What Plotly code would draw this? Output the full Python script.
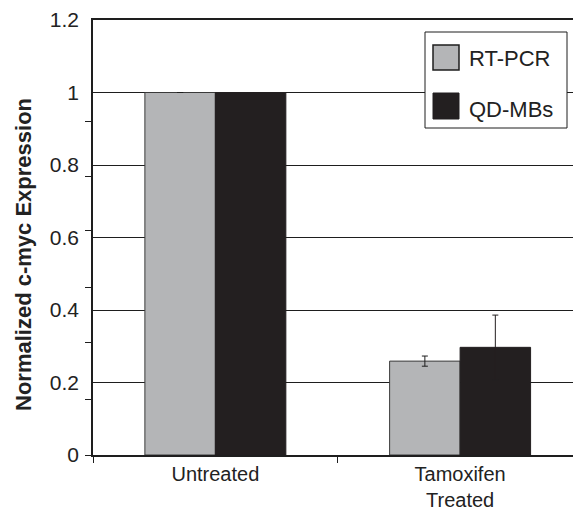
import plotly.graph_objects as go

categories = ["Untreated", "Tamoxifen<br>Treated"]
series_names = ["RT-PCR", "QD-MBs"]
rtpcr = [1.0, 0.259]
rtpcr_err = [0.0, 0.014]
qdmbs = [1.0, 0.297]
qdmbs_err = [0.0, 0.089]
ytick_vals = [0, 0.2, 0.4, 0.6, 0.8, 1.0, 1.2]
ytick_text = ["0", "0.2", "0.4", "0.6", "0.8", "1", "1.2"]
ylabel = "Normalized c-myc Expression"

GRAY = "#b4b5b7"
BLACK = "#231f20"
LINE = "#1e1e1e"
FONT = "Liberation Sans, Arial, sans-serif"

fig = go.Figure()
fig.add_trace(go.Bar(
    x=categories, y=rtpcr, name=series_names[0],
    marker=dict(color=GRAY, line=dict(color="#3a3a3a", width=1)),
    error_y=dict(type="data", array=rtpcr_err, color=LINE, thickness=1, width=3),
    showlegend=False,
))
fig.add_trace(go.Bar(
    x=categories, y=qdmbs, name=series_names[1],
    marker=dict(color=BLACK, line=dict(color=BLACK, width=1)),
    error_y=dict(type="data", array=qdmbs_err, color=BLACK, thickness=1, width=3),
    showlegend=False,
))

# page body has an 8px margin; compensate so the plot lands where the reference has it
OFF = 8
W, H = 581 - OFF, 512 - OFF
ml, mr, mt, mb = 93 - OFF, 0, 20 - OFF, 57
pw, ph = W - ml - mr, H - mt - mb
PL, PB = 93, 455  # page-pixel position of plot left / bottom


def px(x):
    return (x - PL) / pw


def py(y):
    return (PB - y) / ph


shapes = [
    dict(type="rect", xref="paper", yref="paper", x0=px(425), x1=px(567), y0=py(128), y1=py(32),
         fillcolor="white", line=dict(color=LINE, width=1)),
    dict(type="rect", xref="paper", yref="paper", x0=px(433), x1=px(459), y0=py(70), y1=py(45),
         fillcolor=GRAY, line=dict(color=LINE, width=1.5)),
    dict(type="rect", xref="paper", yref="paper", x0=px(433), x1=px(459), y0=py(119), y1=py(93),
         fillcolor=BLACK, line=dict(color=BLACK, width=1)),
]
annotations = [
    dict(text=series_names[0], xref="paper", yref="paper", x=px(467), y=py(58), xanchor="left",
         yanchor="middle", showarrow=False, font=dict(family=FONT, size=22, color="#222")),
    dict(text=series_names[1], xref="paper", yref="paper", x=px(467), y=py(109), xanchor="left",
         yanchor="middle", showarrow=False, font=dict(family=FONT, size=22, color="#222")),
    dict(text="<b>" + ylabel + "</b>", xref="paper", yref="paper", x=px(23), y=py(255),
         xanchor="center", yanchor="middle", textangle=-90, showarrow=False,
         font=dict(family=FONT, size=22, color="#222")),
]

fig.update_layout(
    width=W, height=H,
    margin=dict(l=ml, r=mr, t=mt, b=mb, pad=0, autoexpand=False),
    paper_bgcolor="white", plot_bgcolor="white",
    barmode="group", bargap=0.424, bargroupgap=0,
    font=dict(family=FONT, size=21, color="#222"),
    shapes=shapes, annotations=annotations,
    xaxis=dict(
        range=[-0.5, 1.494], showline=True, linecolor=LINE, linewidth=2, mirror=True,
        ticks="outside", tickson="boundaries", ticklen=6, tickcolor=LINE, tickwidth=1,
        ticklabelstandoff=0, automargin=False,
        tickfont=dict(family=FONT, size=20, color="#222"), showgrid=False,
    ),
    yaxis=dict(
        range=[0, 1.2], tickmode="array", tickvals=ytick_vals, ticktext=ytick_text,
        showline=True, linecolor=LINE, linewidth=1.5, ticks="", showgrid=True,
        gridcolor=LINE, gridwidth=1, zeroline=False, ticklabelstandoff=8, automargin=False,
        tickfont=dict(family=FONT, size=21, color="#222"),
        minor=dict(tickmode="array", tickvals=[0, 0.154, 0.309, 0.461, 0.618, 0.767, 0.921],
                   ticks="outside", ticklen=6, tickcolor=LINE, tickwidth=1, showgrid=False),
    ),
)

fig.write_html("out.html")
